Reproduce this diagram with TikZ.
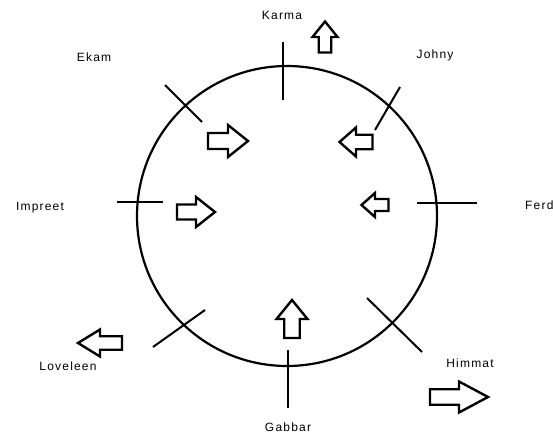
\documentclass[tikz,border=0pt]{standalone}
\usepackage{fontspec}
\newfontfamily\lblfont[LetterSpace=10]{Liberation Sans}
\newcommand\blockarr[5]{% x, y(down), angle, length, width
  \begin{scope}[shift={(#1,-#2)}, rotate=#3]
    \pgfmathsetmacro\aL{#4/2}\pgfmathsetmacro\aH{#4/2-0.5*#4}%
    \pgfmathsetmacro\aW{#5/2}\pgfmathsetmacro\aS{#5/4}%
    \draw[arrline] (-\aL,-\aS) -- (\aH,-\aS) -- (\aH,-\aW) -- (\aL,0) -- (\aH,\aW) -- (\aH,\aS) -- (-\aL,\aS) -- cycle;
  \end{scope}}
\begin{document}
\begin{tikzpicture}[x=1pt,y=1pt,
  lbl/.style={font=\lblfont\fontsize{12}{14}\selectfont, text=black, inner sep=1pt},
  tick/.style={line width=2pt},
  arrline/.style={line width=2.4pt, line join=miter, fill=white}]
\useasboundingbox (0,0) rectangle (553,-443);
\fill[white] (0,0) rectangle (553,-443);
% circle
\node[draw, circle, line width=2.2pt, minimum size=300pt, inner sep=0] (c) at (287,-216) {};
% ticks
\coordinate (k1) at (283,-42);  \coordinate (k2) at (283,-100);
\coordinate (g1) at (288,-350); \coordinate (g2) at (288,-408);
\coordinate (i1) at (117,-202); \coordinate (i2) at (163,-202);
\coordinate (f1) at (417,-203); \coordinate (f2) at (477,-203);
\coordinate (e1) at (165,-85);  \coordinate (e2) at (202,-122);
\coordinate (j1) at (400,-87);  \coordinate (j2) at (375,-130);
\coordinate (l1) at (205,-310); \coordinate (l2) at (153,-347);
\coordinate (h1) at (367,-298); \coordinate (h2) at (422,-352);
\draw[tick] (k1) -- (k2);
\draw[tick, line width=1.5pt] (g1) -- (g2);
\draw[tick] (i1) -- (i2);
\draw[tick] (f1) -- (f2);
\draw[tick] (e1) -- (e2);
\draw[tick] (j1) -- (j2);
\draw[tick] (l1) -- (l2);
\draw[tick] (h1) -- (h2);
% labels
\node[lbl] (karma) at (282,-15) {Karma};
\node[lbl] (ekam) at (94,-57) {Ekam};
\node[lbl] (johny) at (435,-55) {Johny};
\node[lbl] (impreet) at (40,-208) {Impreet};
\node[lbl, anchor=west] (ferd) at (524,-205) {Ferd};
\node[lbl] (loveleen) at (68,-366) {Loveleen};
\node[lbl] (himmat) at (470,-363) {Himmat};
\node[lbl] (gabbar) at (288,-427) {Gabbar};
% block arrows
\blockarr{325}{37}{90}{31}{25}
\blockarr{228}{141}{0}{40}{32}
\blockarr{356}{142}{180}{33}{29}
\blockarr{196}{212}{0}{38}{30}
\blockarr{375}{205}{180}{27}{24}
\blockarr{292}{319}{90}{38}{31}
\blockarr{100}{343}{180}{44}{27}
\blockarr{459}{397}{0}{58}{31}
\end{tikzpicture}
\end{document}
